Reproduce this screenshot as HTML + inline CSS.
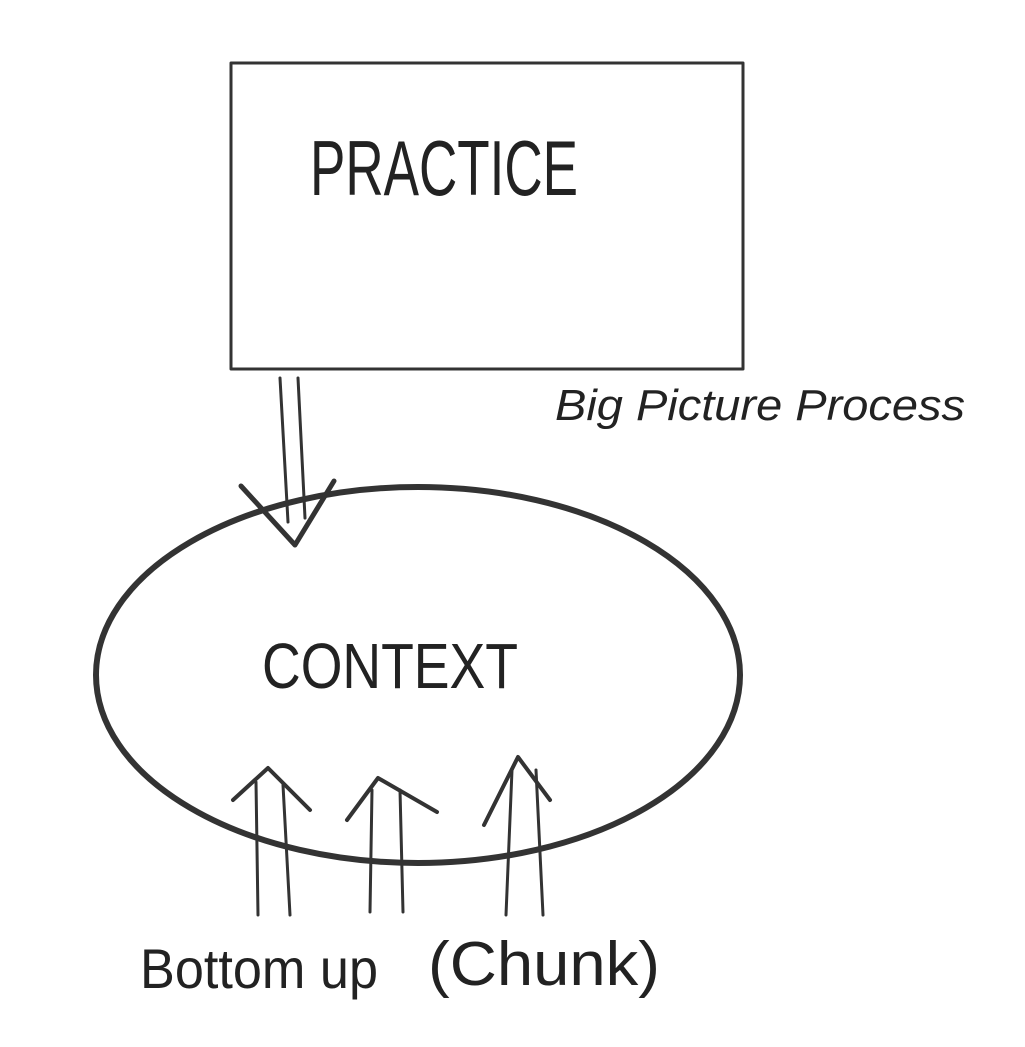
<!DOCTYPE html>
<html><head><meta charset="utf-8"><style>html,body{margin:0;padding:0;background:#fff}svg{display:block}</style></head>
<body>
<svg width="1025" height="1047" viewBox="0 0 1025 1047" xmlns="http://www.w3.org/2000/svg">
<rect x="0" y="0" width="1025" height="1047" fill="#fff"/>
<g fill="none" stroke="#333" stroke-linecap="round" stroke-linejoin="round">
<rect x="231" y="63" width="512" height="306" stroke-width="3"/>
<ellipse cx="418" cy="675" rx="322" ry="188" stroke-width="6"/>
<!-- down arrow -->
<path d="M280 378 L288 522 M298 378 L305 518" stroke-width="3"/>
<path d="M241 486 L295 545 L334 481" stroke-width="5"/>
<!-- up arrows -->
<path d="M258 915 L256 782 M290 915 L283 785" stroke-width="3"/>
<path d="M233 800 L268 768 L310 810" stroke-width="4"/>
<path d="M370 912 L372 790 M403 912 L400 790" stroke-width="3"/>
<path d="M347 820 L378 778 L437 812" stroke-width="4"/>
<path d="M506 915 L512 770 M543 915 L536 770" stroke-width="3"/>
<path d="M484 825 L518 757 L550 800" stroke-width="4"/>
</g>
<g fill="#222" font-family="Liberation Sans, sans-serif">
<text x="310" y="195" font-size="78" textLength="268" lengthAdjust="spacingAndGlyphs">PRACTICE</text>
<text x="555" y="420" font-size="44" font-style="italic" textLength="410" lengthAdjust="spacingAndGlyphs">Big Picture Process</text>
<text x="262" y="688" font-size="64" textLength="256" lengthAdjust="spacingAndGlyphs">CONTEXT</text>
<text x="140" y="988" font-size="56" textLength="238" lengthAdjust="spacingAndGlyphs">Bottom up</text>
<text x="428" y="985" font-size="62" textLength="232" lengthAdjust="spacingAndGlyphs">(Chunk)</text>
</g>
</svg>
</body></html>
